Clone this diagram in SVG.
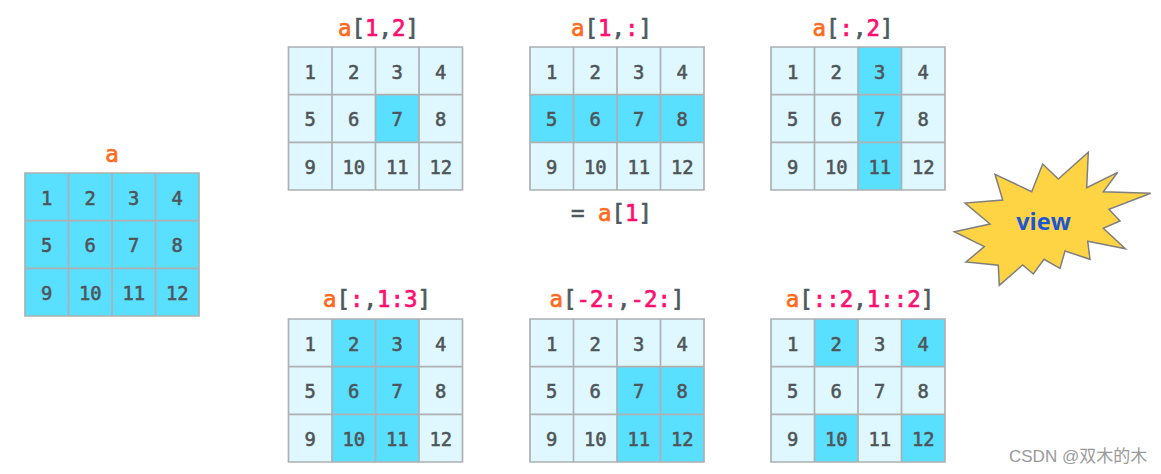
<svg xmlns="http://www.w3.org/2000/svg" width="1161" height="474" viewBox="0 0 1161 474">
<style>
.bg{fill:#dff7fe}
.hi{fill:#59dfff}
.ln{fill:none;stroke:#aeb0b1;stroke-width:1.7}
.n{font:500 18.8px "DejaVu Sans Mono",monospace;fill:#4f5557;stroke:#4f5557;stroke-width:.55;text-anchor:middle}
.t{font:500 22.4px "DejaVu Sans Mono",monospace;fill:#4d5a60;stroke:#4d5a60;stroke-width:.7;text-anchor:middle}
.o{fill:#ff6a1c;stroke:#ff6a1c}
.p{fill:#ff0f6f;stroke:#ff0f6f}
</style>
<defs>
<path id="lines" class="ln" d="M0 0H174V143H0ZM43.5 0V143M87 0V143M130.5 0V143M0 47.7H174M0 95.3H174"/>
</defs>
<rect width="1161" height="474" fill="#fff"/>

<g id="grid-a" transform="translate(25 173)">
<rect class="hi" width="174" height="143"/>
<use href="#lines"/>
<text class="n" x="21.7" y="31.5">1</text><text class="n" x="65.2" y="31.5">2</text><text class="n" x="108.7" y="31.5">3</text><text class="n" x="152.2" y="31.5">4</text>
<text class="n" x="21.7" y="79">5</text><text class="n" x="65.2" y="79">6</text><text class="n" x="108.7" y="79">7</text><text class="n" x="152.2" y="79">8</text>
<text class="n" x="21.7" y="126.5">9</text><text class="n" x="65.2" y="126.5">10</text><text class="n" x="108.7" y="126.5">11</text><text class="n" x="152.2" y="126.5">12</text>
</g>
<text id="label-a" class="t" x="112" y="162"><tspan class="o">a</tspan></text>

<g id="grid-1-2" transform="translate(288.5 47)">
<rect class="bg" width="174" height="143"/>
<rect class="hi" x="87" y="47.7" width="43.5" height="47.6"/>
<use href="#lines"/>
<text class="n" x="21.7" y="31.5">1</text><text class="n" x="65.2" y="31.5">2</text><text class="n" x="108.7" y="31.5">3</text><text class="n" x="152.2" y="31.5">4</text>
<text class="n" x="21.7" y="79">5</text><text class="n" x="65.2" y="79">6</text><text class="n" x="108.7" y="79">7</text><text class="n" x="152.2" y="79">8</text>
<text class="n" x="21.7" y="126.5">9</text><text class="n" x="65.2" y="126.5">10</text><text class="n" x="108.7" y="126.5">11</text><text class="n" x="152.2" y="126.5">12</text>
</g>
<text id="label-1-2" class="t" x="378.5" y="36"><tspan class="o">a</tspan>[<tspan class="p">1</tspan>,<tspan class="p">2</tspan>]</text>

<g id="grid-1-all" transform="translate(530 47)">
<rect class="bg" width="174" height="143"/>
<rect class="hi" y="47.7" width="174" height="47.6"/>
<use href="#lines"/>
<text class="n" x="21.7" y="31.5">1</text><text class="n" x="65.2" y="31.5">2</text><text class="n" x="108.7" y="31.5">3</text><text class="n" x="152.2" y="31.5">4</text>
<text class="n" x="21.7" y="79">5</text><text class="n" x="65.2" y="79">6</text><text class="n" x="108.7" y="79">7</text><text class="n" x="152.2" y="79">8</text>
<text class="n" x="21.7" y="126.5">9</text><text class="n" x="65.2" y="126.5">10</text><text class="n" x="108.7" y="126.5">11</text><text class="n" x="152.2" y="126.5">12</text>
</g>
<text id="label-1-all" class="t" x="611.5" y="36"><tspan class="o">a</tspan>[<tspan class="p">1</tspan>,<tspan class="p">:</tspan>]</text>
<text id="label-eq" class="t" x="611.5" y="221">= <tspan class="o">a</tspan>[<tspan class="p">1</tspan>]</text>

<g id="grid-all-2" transform="translate(771 47)">
<rect class="bg" width="174" height="143"/>
<rect class="hi" x="87" width="43.5" height="143"/>
<use href="#lines"/>
<text class="n" x="21.7" y="31.5">1</text><text class="n" x="65.2" y="31.5">2</text><text class="n" x="108.7" y="31.5">3</text><text class="n" x="152.2" y="31.5">4</text>
<text class="n" x="21.7" y="79">5</text><text class="n" x="65.2" y="79">6</text><text class="n" x="108.7" y="79">7</text><text class="n" x="152.2" y="79">8</text>
<text class="n" x="21.7" y="126.5">9</text><text class="n" x="65.2" y="126.5">10</text><text class="n" x="108.7" y="126.5">11</text><text class="n" x="152.2" y="126.5">12</text>
</g>
<text id="label-all-2" class="t" x="853" y="36"><tspan class="o">a</tspan>[<tspan class="p">:</tspan>,<tspan class="p">2</tspan>]</text>

<g id="grid-all-1-3" transform="translate(288.5 319)">
<rect class="bg" width="174" height="143"/>
<rect class="hi" x="43.5" width="87" height="143"/>
<use href="#lines"/>
<text class="n" x="21.7" y="31.5">1</text><text class="n" x="65.2" y="31.5">2</text><text class="n" x="108.7" y="31.5">3</text><text class="n" x="152.2" y="31.5">4</text>
<text class="n" x="21.7" y="79">5</text><text class="n" x="65.2" y="79">6</text><text class="n" x="108.7" y="79">7</text><text class="n" x="152.2" y="79">8</text>
<text class="n" x="21.7" y="126.5">9</text><text class="n" x="65.2" y="126.5">10</text><text class="n" x="108.7" y="126.5">11</text><text class="n" x="152.2" y="126.5">12</text>
</g>
<text id="label-all-1-3" class="t" x="377" y="307"><tspan class="o">a</tspan>[<tspan class="p">:</tspan>,<tspan class="p">1:3</tspan>]</text>

<g id="grid-neg" transform="translate(530 319)">
<rect class="bg" width="174" height="143"/>
<rect class="hi" x="87" y="47.7" width="87" height="95.3"/>
<use href="#lines"/>
<text class="n" x="21.7" y="31.5">1</text><text class="n" x="65.2" y="31.5">2</text><text class="n" x="108.7" y="31.5">3</text><text class="n" x="152.2" y="31.5">4</text>
<text class="n" x="21.7" y="79">5</text><text class="n" x="65.2" y="79">6</text><text class="n" x="108.7" y="79">7</text><text class="n" x="152.2" y="79">8</text>
<text class="n" x="21.7" y="126.5">9</text><text class="n" x="65.2" y="126.5">10</text><text class="n" x="108.7" y="126.5">11</text><text class="n" x="152.2" y="126.5">12</text>
</g>
<text id="label-neg" class="t" x="617" y="307"><tspan class="o">a</tspan>[<tspan class="p">-2:</tspan>,<tspan class="p">-2:</tspan>]</text>

<g id="grid-step" transform="translate(771 319)">
<rect class="bg" width="174" height="143"/>
<rect class="hi" x="43.5" width="43.5" height="47.7"/>
<rect class="hi" x="130.5" width="43.5" height="47.7"/>
<rect class="hi" x="43.5" y="95.3" width="43.5" height="47.7"/>
<rect class="hi" x="130.5" y="95.3" width="43.5" height="47.7"/>
<use href="#lines"/>
<text class="n" x="21.7" y="31.5">1</text><text class="n" x="65.2" y="31.5">2</text><text class="n" x="108.7" y="31.5">3</text><text class="n" x="152.2" y="31.5">4</text>
<text class="n" x="21.7" y="79">5</text><text class="n" x="65.2" y="79">6</text><text class="n" x="108.7" y="79">7</text><text class="n" x="152.2" y="79">8</text>
<text class="n" x="21.7" y="126.5">9</text><text class="n" x="65.2" y="126.5">10</text><text class="n" x="108.7" y="126.5">11</text><text class="n" x="152.2" y="126.5">12</text>
</g>
<text id="label-step" class="t" x="860" y="307"><tspan class="o">a</tspan>[<tspan class="p">::2</tspan>,<tspan class="p">1::2</tspan>]</text>

<g id="view">
<polygon fill="#ffd444" stroke="#7f7f7f" stroke-width="1.5" stroke-linejoin="miter" points="1088.3,152.3 1086.7,187.7 1117.7,172.3 1103.3,191.7 1150.7,193.3 1109,209.3 1120,221 1103.3,228.3 1125.3,248.7 1087.7,241.3 1090,259.3 1065,251 1060,268.3 1044,259.3 1033.3,274 1022.7,265 999.3,285.3 998.3,265.3 966,262 984.3,246.7 954.3,231.7 990,224 965,203 1002.7,200 995,174.3 1031.7,191.7 1042.7,164 1058.3,179"/>
<text x="1043.5" y="230" text-anchor="middle" font-family="'Open Sans','Noto Sans',sans-serif" font-weight="700" font-size="23.5" fill="#1a57d8">view</text>
</g>

<text id="watermark" x="1009" y="462" font-family="'Liberation Sans','Noto Sans CJK SC',sans-serif" font-size="17" fill="#9a9a9a">CSDN @双木的木</text>
</svg>
